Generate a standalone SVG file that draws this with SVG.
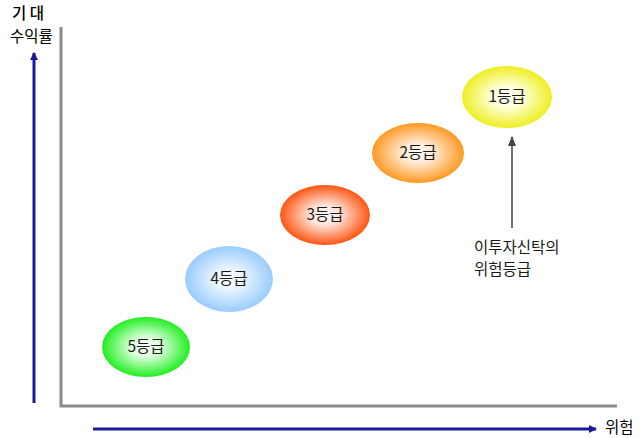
<svg xmlns="http://www.w3.org/2000/svg" width="641" height="438" viewBox="0 0 641 438">
<style>
.lbl{font-family:"Noto Sans CJK KR","Noto Sans",sans-serif;font-size:15.5px;fill:#1a1a1a;}
.axlbl{font-family:"Noto Sans CJK KR","Noto Sans",sans-serif;font-size:15.5px;fill:#000;}
.gray{stroke:#8a8a8a;stroke-width:3;fill:none;}
.blue{stroke:#1a1a9a;stroke-width:3;fill:none;}
</style>
<defs>
<radialGradient id="g5" cx="0.5" cy="0.5" r="0.5"><stop offset="0" stop-color="#ffffff"/><stop offset="0.35" stop-color="#d8ffd8"/><stop offset="1" stop-color="#22ee22"/></radialGradient>
<radialGradient id="g4" cx="0.5" cy="0.5" r="0.5"><stop offset="0" stop-color="#ffffff"/><stop offset="0.35" stop-color="#e6f2ff"/><stop offset="1" stop-color="#99ccff"/></radialGradient>
<radialGradient id="g3" cx="0.5" cy="0.5" r="0.5"><stop offset="0" stop-color="#ffffff"/><stop offset="0.35" stop-color="#ffe0d6"/><stop offset="1" stop-color="#ff5511"/></radialGradient>
<radialGradient id="g2" cx="0.5" cy="0.5" r="0.5"><stop offset="0" stop-color="#ffffff"/><stop offset="0.35" stop-color="#ffe8d0"/><stop offset="1" stop-color="#ff9922"/></radialGradient>
<radialGradient id="g1" cx="0.5" cy="0.5" r="0.5"><stop offset="0" stop-color="#ffffff"/><stop offset="0.35" stop-color="#ffffd8"/><stop offset="1" stop-color="#eeee22"/></radialGradient>
<marker id="ab" markerWidth="8" markerHeight="8" refX="7" refY="4" orient="auto" markerUnits="userSpaceOnUse"><path d="M0,0 L8,4 L0,8 Z" fill="#1a1a9a"/></marker>
<marker id="ak" markerWidth="10" markerHeight="10" refX="9" refY="5" orient="auto" markerUnits="userSpaceOnUse"><path d="M0,1 L10,5 L0,9 Z" fill="#444"/></marker>
</defs>
<g id="axes">
<path class="gray" d="M61,27 V406 H617"/>
</g>
<g id="connectors">
<line class="blue" x1="34" y1="403" x2="34" y2="53" marker-end="url(#ab)"/>
<line class="blue" x1="93" y1="429" x2="596" y2="429" marker-end="url(#ab)"/>
<line x1="512" y1="228" x2="512" y2="137" stroke="#444" stroke-width="1.5" marker-end="url(#ak)"/>
</g>
<g id="ylabel"><text class="axlbl" x="12" y="19" font-weight="500">기 대</text><text class="axlbl" x="10" y="42">수익률</text></g>
<g id="xlabel"><text class="axlbl" x="605" y="433">위험</text></g>
<g id="n5"><ellipse cx="146" cy="347" rx="44" ry="30" fill="url(#g5)"/><text class="lbl" x="146" y="352" text-anchor="middle">5등급</text></g>
<g id="n4"><ellipse cx="229" cy="279" rx="44" ry="33" fill="url(#g4)"/><text class="lbl" x="229" y="284" text-anchor="middle">4등급</text></g>
<g id="n3"><ellipse cx="325" cy="215" rx="45" ry="30" fill="url(#g3)"/><text class="lbl" x="325" y="220" text-anchor="middle">3등급</text></g>
<g id="n2"><ellipse cx="418" cy="153" rx="46" ry="30" fill="url(#g2)"/><text class="lbl" x="418" y="158" text-anchor="middle">2등급</text></g>
<g id="n1"><ellipse cx="507" cy="97" rx="45" ry="31" fill="url(#g1)"/><text class="lbl" x="507" y="102" text-anchor="middle">1등급</text></g>
<g id="note"><text class="lbl" x="474" y="253">이투자신탁의</text><text class="lbl" x="474" y="275">위험등급</text></g>
</svg>
